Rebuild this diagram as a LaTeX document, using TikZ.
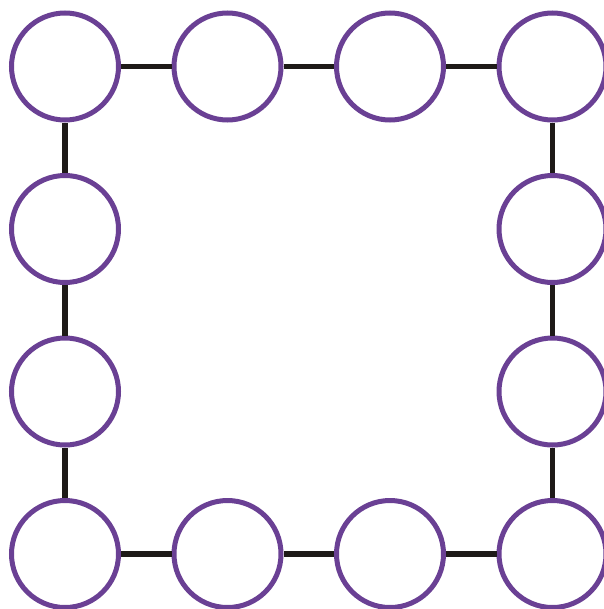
\documentclass[tikz,border=0pt]{standalone}
\usepackage{xcolor}
\usetikzlibrary{positioning}
\definecolor{ringpurple}{RGB}{106,64,148}
\definecolor{linkblack}{RGB}{30,26,24}

\begin{document}
\begin{tikzpicture}[node distance=0.505cm]
  % ring of twelve sites joined in a square loop
  \tikzset{site/.style={draw=ringpurple,circle,line width=0.05cm,minimum size=1.07cm,inner sep=0pt,fill=white}}
  \tikzset{link/.style={draw=linkblack,line width=0.055cm}}
  \useasboundingbox (0,0) rectangle (6.04,-6.09);
  % top row
  \node[site] (s1) at (0.65,-0.665) {};
  \node[site,right=of s1] (s2) {};
  \node[site,right=of s2] (s3) {};
  \node[site,right=of s3] (s4) {};
  % right side
  \node[site,below=of s4] (s5) {};
  \node[site,below=of s5] (s6) {};
  % bottom row
  \node[site,below=of s6] (s7) {};
  \node[site,left=of s7] (s8) {};
  \node[site,left=of s8] (s9) {};
  \node[site,left=of s9] (s10) {};
  % left side
  \node[site,above=of s10] (s11) {};
  \node[site,above=of s11] (s12) {};
  % links
  \foreach \i/\j in {1/2,2/3,3/4,4/5,5/6,6/7,7/8,8/9,9/10,10/11,11/12,12/1}
    \draw[link] (s\i) -- (s\j);
\end{tikzpicture}
\end{document}
